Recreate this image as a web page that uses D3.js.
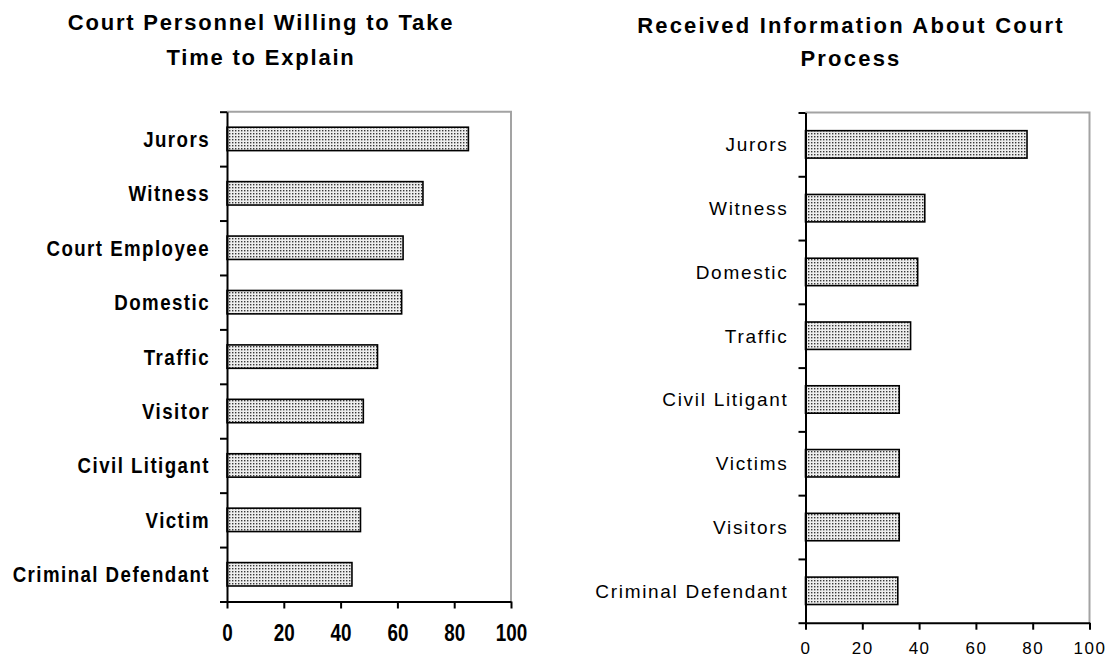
<!DOCTYPE html>
<html>
<head>
<meta charset="utf-8">
<script src="https://cdn.jsdelivr.net/npm/d3@7/dist/d3.min.js"></script>
<style>
  html, body { margin: 0; padding: 0; background: #fff; }
  svg { display: block; }
</style>
</head>
<body>
<svg id="chart" width="1107" height="658"></svg>
<script>
// ---- Data ----
const leftTitle = ["Court Personnel Willing to Take", "Time to Explain"];
const leftCategories = ["Jurors", "Witness", "Court Employee", "Domestic", "Traffic", "Visitor", "Civil Litigant", "Victim", "Criminal Defendant"];
const leftValues = [85, 69, 62, 61.5, 53, 48, 47, 47, 44];

const rightTitle = ["Received Information About Court", "Process"];
const rightCategories = ["Jurors", "Witness", "Domestic", "Traffic", "Civil Litigant", "Victims", "Visitors", "Criminal Defendant"];
const rightValues = [78, 42, 39.5, 37, 33, 33, 33, 32.5];

const xTicks = [0, 20, 40, 60, 80, 100];

// ---- Drawing ----
const svg = d3.select("#chart");
const FONT = "'Liberation Sans', Arial, sans-serif";

const defs = svg.append("defs");
const pat = defs.append("pattern")
  .attr("id", "dots").attr("patternUnits", "userSpaceOnUse")
  .attr("width", 3).attr("height", 3);
pat.append("rect").attr("width", 3).attr("height", 3).attr("fill", "#eeeeee");
pat.append("rect").attr("x", 1).attr("y", 1).attr("width", 1.4).attr("height", 1.4).attr("fill", "#383838");

function drawPanel(cfg) {
  const g = svg.append("g");
  const x = d3.scaleLinear().domain([0, 100]).range([cfg.x0, cfg.x1]);
  const y = d3.scaleBand().domain(cfg.categories)
    .range([cfg.top, cfg.bottom]).paddingInner(0.57).paddingOuter(0.285);
  const yIdx = d3.scaleLinear().domain([0, cfg.categories.length]).range([cfg.top, cfg.bottom]);

  // Title
  const t = g.append("text")
    .attr("text-anchor", "middle")
    .style("font-family", FONT)
    .style("font-weight", "bold")
    .style("font-size", cfg.titleSize + "px")
    .style("letter-spacing", cfg.titleSpacing + "px");
  cfg.title.forEach((line, i) => {
    t.append("tspan").attr("x", cfg.titleX).attr("y", cfg.titleY[i]).text(line);
  });

  // Gray frame (top and right)
  g.append("path")
    .attr("d", `M${x(0)},${cfg.top}H${x(100)}V${cfg.bottom}`)
    .attr("fill", "none").attr("stroke", "#a3a3a3").attr("stroke-width", 2);

  // Bars
  g.selectAll("rect.bar").data(cfg.values).join("rect")
    .attr("class", "bar")
    .attr("x", x(0))
    .attr("y", (d, i) => y(cfg.categories[i]))
    .attr("width", d => x(d) - x(0))
    .attr("height", y.bandwidth())
    .attr("fill", "url(#dots)")
    .attr("stroke", "#000").attr("stroke-width", 1.6);

  // Y axis with boundary ticks
  const yAxis = g.append("g")
    .attr("transform", `translate(${x(0)},0)`)
    .call(d3.axisLeft(yIdx).tickValues(d3.range(cfg.categories.length + 1))
      .tickSize(7).tickSizeOuter(0).tickFormat(""));
  yAxis.selectAll("path, line").attr("stroke", "#000").attr("stroke-width", 2);

  // Category labels
  g.selectAll("text.cat").data(cfg.categories).join("text")
    .attr("class", "cat")
    .attr("transform", d => `translate(${x(0) - cfg.labelGap},${y(d) + y.bandwidth() / 2}) scale(${cfg.labelScaleX},1)`)
    .attr("dy", "0.36em")
    .attr("text-anchor", "end")
    .style("font-family", FONT)
    .style("font-weight", cfg.labelWeight)
    .style("font-size", cfg.labelSize + "px")
    .style("letter-spacing", cfg.labelSpacing + "px")
    .text(d => d);

  // X axis
  const xAxis = g.append("g")
    .attr("transform", `translate(0,${cfg.bottom})`)
    .call(d3.axisBottom(x).tickValues(xTicks).tickSize(7).tickSizeOuter(0).tickPadding(cfg.tickPad));
  xAxis.selectAll("path, line").attr("stroke", "#000").attr("stroke-width", 2);
  xAxis.selectAll("text")
    .attr("fill", "#000")
    .attr("transform", `scale(${cfg.tickScaleX},1)`)
    .style("font-family", FONT)
    .style("font-weight", cfg.tickWeight)
    .style("font-size", cfg.tickSize + "px")
    .style("letter-spacing", cfg.tickSpacing + "px");
}

drawPanel({
  title: leftTitle, categories: leftCategories, values: leftValues,
  x0: 227, x1: 511, top: 111.7, bottom: 601.5,
  titleX: 261, titleY: [30, 65], titleSize: 22, titleSpacing: 1.8,
  labelWeight: "bold", labelSize: 22, labelSpacing: 1.7, labelGap: 17, labelScaleX: 0.85,
  tickWeight: "bold", tickSize: 23, tickSpacing: 0, tickPad: 16, tickScaleX: 0.82
});

drawPanel({
  title: rightTitle, categories: rightCategories, values: rightValues,
  x0: 805.5, x1: 1089.5, top: 112.5, bottom: 622.7,
  titleX: 851, titleY: [33, 66], titleSize: 22, titleSpacing: 2.2,
  labelWeight: "normal", labelSize: 19, labelSpacing: 1.7, labelGap: 17, labelScaleX: 1,
  tickWeight: "normal", tickSize: 17, tickSpacing: 1.5, tickPad: 12, tickScaleX: 1
});
</script>
</body>
</html>
